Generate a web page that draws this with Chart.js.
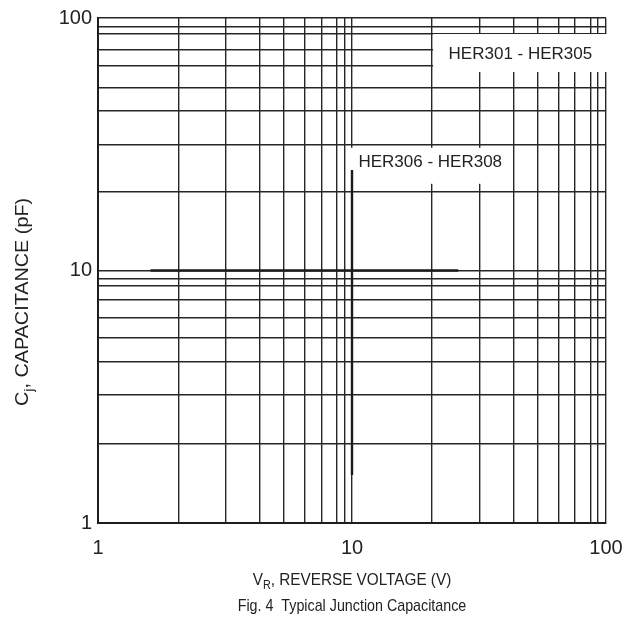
<!DOCTYPE html>
<html>
<head>
<meta charset="utf-8">
<script src="https://cdn.jsdelivr.net/npm/chart.js@4.4.1/dist/chart.umd.min.js"></script>
<style>
  html, body { margin: 0; padding: 0; background: #ffffff; }
  #wrap { width: 637px; height: 626px; position: relative; }
</style>
</head>
<body>
<div id="wrap"><canvas id="c" width="637" height="626"></canvas></div>
<script>
// Ruled lines of the log-log graph paper (V_R and C_j)
const voltageGrid = [1, 2.07, 3.19, 4.35, 5.38, 6.52, 7.6, 8.73, 9.36, 10, 20.6, 31.8, 43.4, 54, 65, 75.6, 86.7, 93, 100];
const capacitanceGrid = [1, 2.07, 3.21, 4.35, 5.41, 6.49, 7.64, 8.73, 9.31, 10, 20.6, 31.6, 43, 53, 64.7, 75.2, 86.7, 92.5, 100];
const voltageTickLabels = [1, 10, 100];
const capacitanceTickLabels = [1, 10, 100];

// Heavy reference strokes: C = 10 pF line and V = 10 V line
const hLineV = [1.61, 26.2];
const hLineC = [10, 10];
const vLineV = [10, 10];
const vLineC = [1.55, 25];

// Part-family labels, anchored at the left edge of their text
const seriesLabels = ['HER301 - HER305', 'HER306 - HER308'];
const labelV = [24.0, 10.6];
const labelC = [72, 26.7];

const FONT = "'Liberation Sans', Arial, Helvetica, sans-serif";
const INK = '#222222';

function drawSubText(ctx, parts, cx, cy, size, squeeze) {
  // parts: [{t, sub}] drawn centred on (cx, cy); squeeze narrows the glyphs
  const sx = squeeze || 1;
  const subSize = Math.round(size * 0.72);
  let total = 0;
  parts.forEach(p => {
    ctx.font = (p.sub ? subSize : size) + 'px ' + FONT;
    p.w = ctx.measureText(p.t).width;
    total += p.w;
  });
  ctx.save();
  ctx.translate(cx, cy);
  ctx.scale(sx, 1);
  let x = -total / 2;
  ctx.textAlign = 'left';
  ctx.textBaseline = 'middle';
  parts.forEach(p => {
    ctx.font = (p.sub ? subSize : size) + 'px ' + FONT;
    ctx.fillText(p.t, x, p.sub ? size * 0.35 : 0);
    x += p.w;
  });
  ctx.restore();
}

const labelBoxes = {
  id: 'labelBoxes',
  beforeDatasetsDraw(chart) {
    const { ctx, scales } = chart;
    const pads = [
      { l: 15.5, r: 15, t: 20, b: 18 },
      { l: 9, r: 9, t: 15, b: 21 }
    ];
    ctx.save();
    ctx.font = '17px ' + FONT;
    seriesLabels.forEach((txt, i) => {
      const x = scales.x.getPixelForValue(labelV[i]);
      const y = scales.y.getPixelForValue(labelC[i]);
      const w = ctx.measureText(txt).width;
      const p = pads[i];
      ctx.fillStyle = '#ffffff';
      ctx.fillRect(x - p.l, y - p.t, w + p.l + p.r, p.t + p.b);
      ctx.fillStyle = INK;
      ctx.textAlign = 'left';
      ctx.textBaseline = 'middle';
      ctx.fillText(txt, x, y);
    });
    ctx.restore();
  }
};

const titles = {
  id: 'titles',
  afterDraw(chart) {
    const { ctx, chartArea } = chart;
    const cx = (chartArea.left + chartArea.right) / 2;
    ctx.save();
    ctx.fillStyle = INK;
    drawSubText(ctx, [{ t: 'V' }, { t: 'R', sub: true }, { t: ', REVERSE VOLTAGE (V)' }], cx, 580, 17, 0.9);
    drawSubText(ctx, [{ t: 'Fig. 4  Typical Junction Capacitance' }], cx, 606, 17, 0.84);
    ctx.translate(23, 302);
    ctx.rotate(-Math.PI / 2);
    drawSubText(ctx, [{ t: 'C' }, { t: 'j', sub: true }, { t: ', CAPACITANCE (pF)' }], 0, 0, 18, 1.1);
    ctx.restore();
  }
};

const gridStyle = { color: '#262626', lineWidth: 1.4, drawTicks: false };
const borderStyle = { color: '#1e1e1e', width: 2 };

new Chart(document.getElementById('c'), {
  type: 'scatter',
  data: {
    datasets: [
      {
        data: hLineV.map((v, i) => ({ x: v, y: hLineC[i] })),
        showLine: true, borderColor: '#1a1a1a', borderWidth: 2.4, pointRadius: 0
      },
      {
        data: vLineV.map((v, i) => ({ x: v, y: vLineC[i] })),
        showLine: true, borderColor: '#1a1a1a', borderWidth: 2.4, pointRadius: 0
      }
    ]
  },
  options: {
    responsive: false,
    animation: false,
    layout: { padding: { left: 0, top: 3, right: 31, bottom: 0 } },
    plugins: { legend: { display: false }, tooltip: { enabled: false } },
    scales: {
      x: {
        type: 'logarithmic', min: 1, max: 100,
        afterBuildTicks: s => { s.ticks = voltageGrid.map(v => ({ value: v })); },
        afterFit: s => { s.height = 103; },
        grid: gridStyle,
        border: borderStyle,
        ticks: {
          autoSkip: false, maxRotation: 0, padding: 13, color: INK,
          font: { size: 20, family: FONT },
          callback: v => voltageTickLabels.includes(v) ? String(v) : ''
        }
      },
      y: {
        type: 'logarithmic', min: 1, max: 100,
        afterBuildTicks: s => { s.ticks = capacitanceGrid.map(v => ({ value: v })); },
        afterFit: s => { s.width = 98; },
        grid: gridStyle,
        border: borderStyle,
        ticks: {
          autoSkip: false, padding: 6, color: INK,
          font: { size: 20, family: FONT },
          callback: v => capacitanceTickLabels.includes(v) ? String(v) : ''
        }
      }
    }
  },
  plugins: [labelBoxes, titles]
});
</script>
</body>
</html>
